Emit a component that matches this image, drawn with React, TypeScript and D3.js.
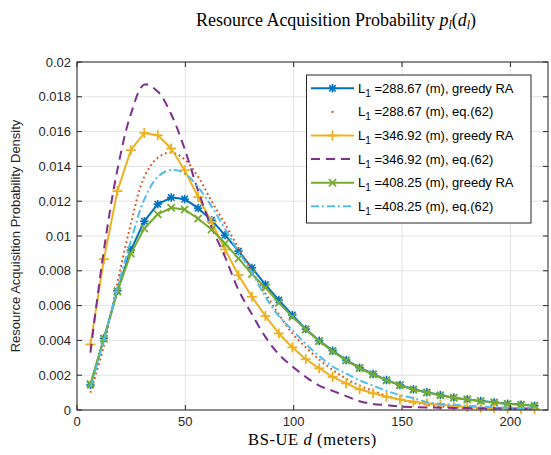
import React from "react";
import * as d3 from "d3";

const distances = [6.21, 12.42, 18.63, 24.84, 31.05, 37.26, 43.47, 49.68, 55.89, 62.1, 68.31, 74.52, 80.73, 86.94, 93.15, 99.36, 105.57, 111.78, 117.99, 124.2, 130.41, 136.62, 142.83, 149.04, 155.25, 161.46, 167.67, 173.88, 180.09, 186.3, 192.51, 198.72, 204.93, 211.14];

const greedy288 = [0.00144, 0.00412, 0.00685, 0.00919, 0.01085, 0.01183, 0.01221, 0.01212, 0.0116, 0.01091, 0.01005, 0.00913, 0.00817, 0.00721, 0.00632, 0.00546, 0.00465, 0.00398, 0.00341, 0.00287, 0.00243, 0.00207, 0.00172, 0.00144, 0.00119, 0.00102, 0.00086, 0.00071, 0.00061, 0.00052, 0.00044, 0.00036, 0.00031, 0.00025];
const eq288 = [0.001, 0.0037, 0.0073, 0.0107, 0.0134, 0.0145, 0.0148, 0.0144, 0.0134, 0.012, 0.0107, 0.0093, 0.008, 0.0067, 0.0055, 0.0044, 0.0036, 0.0029, 0.0023, 0.0018, 0.0014, 0.0011, 0.0008, 0.0006, 0.00042, 0.0003, 0.0002, 0.00015, 0.0001, 0.00008, 0.00006, 0.00005, 0.00004, 0.00003];
const greedy346 = [0.00377, 0.00867, 0.01258, 0.01493, 0.01592, 0.01579, 0.01503, 0.01378, 0.01224, 0.01081, 0.00923, 0.00775, 0.00651, 0.0054, 0.0044, 0.0036, 0.00292, 0.0024, 0.0019, 0.00153, 0.00119, 0.00096, 0.00076, 0.00061, 0.00048, 0.00038, 0.0003, 0.00023, 0.00017, 0.00013, 0.0001, 0.00008, 0.00006, 0.00005];
const eq346 = [0.0033, 0.0092, 0.0138, 0.017, 0.0187, 0.0183, 0.017, 0.015, 0.0126, 0.0105, 0.0088, 0.0069, 0.0055, 0.0042, 0.0032, 0.0025, 0.0019, 0.0014, 0.0011, 0.0008, 0.0005, 0.00035, 0.00028, 0.0002, 0.00017, 0.00015, 0.00013, 0.00012, 0.00011, 0.0001, 0.0001, 0.00009, 0.00008, 0.00008];
const greedy408 = [0.0015, 0.0041, 0.0068, 0.009, 0.01043, 0.01125, 0.01162, 0.01152, 0.011, 0.01037, 0.00957, 0.00871, 0.00781, 0.00703, 0.00616, 0.00536, 0.00463, 0.00395, 0.00337, 0.00284, 0.0024, 0.00204, 0.0017, 0.00142, 0.00117, 0.001, 0.00084, 0.0007, 0.0006, 0.00051, 0.00043, 0.00035, 0.0003, 0.00024];
const eq408 = [0.0013, 0.004, 0.007, 0.0097, 0.0121, 0.0134, 0.0138, 0.0136, 0.0128, 0.0117, 0.0104, 0.0091, 0.0079, 0.0065, 0.0054, 0.0046, 0.0038, 0.0031, 0.0025, 0.0021, 0.0017, 0.0014, 0.0011, 0.00085, 0.00068, 0.00045, 0.00036, 0.0003, 0.00024, 0.0002, 0.00016, 0.00013, 0.00011, 0.0001];

const xTicks = [0, 50, 100, 150, 200];
const yTicks = [0, 0.002, 0.004, 0.006, 0.008, 0.01, 0.012, 0.014, 0.016, 0.018, 0.02];
const yTickLabels = ["0", "0.002", "0.004", "0.006", "0.008", "0.01", "0.012", "0.014", "0.016", "0.018", "0.02"];
const legendValues = ["288.67", "288.67", "346.92", "346.92", "408.25", "408.25"];
const legendKinds = ["greedy RA", "eq.(62)", "greedy RA", "eq.(62)", "greedy RA", "eq.(62)"];

type Series = {
  values: number[];
  color: string;
  dash?: string;
  width: number;
  marker?: "star" | "plus" | "x";
  smooth: boolean;
};

const series: Series[] = [
  { values: greedy288, color: "#0072BD", width: 2, marker: "star", smooth: false },
  { values: eq288, color: "#D95319", width: 2, dash: "1.8,3", smooth: true },
  { values: greedy346, color: "#EDB120", width: 2, marker: "plus", smooth: false },
  { values: eq346, color: "#7E2F8E", width: 2, dash: "9,6", smooth: true },
  { values: greedy408, color: "#77AC30", width: 2, marker: "x", smooth: false },
  { values: eq408, color: "#4DBEEE", width: 2, dash: "8,3,2,3", smooth: true },
];

const W = 551, H = 455;
const L = 77, R = 548, T = 62, B = 410;
const axisColor = "#262626";
const sans = "'Liberation Sans', Arial, Helvetica, sans-serif";
const serif = "'Liberation Serif', 'Times New Roman', serif";

function Marker({ kind, cx, cy, color }: { kind: string; cx: number; cy: number; color: string }) {
  if (kind === "star") {
    const a = 4.2, b = 3.2;
    return (
      <g stroke={color} strokeWidth={1.6} fill="none">
        <line x1={cx - a} y1={cy} x2={cx + a} y2={cy} />
        <line x1={cx} y1={cy - a} x2={cx} y2={cy + a} />
        <line x1={cx - b} y1={cy - b} x2={cx + b} y2={cy + b} />
        <line x1={cx - b} y1={cy + b} x2={cx + b} y2={cy - b} />
      </g>
    );
  }
  if (kind === "plus") {
    const a = 5;
    return (
      <g stroke={color} strokeWidth={1.8} fill="none">
        <line x1={cx - a} y1={cy} x2={cx + a} y2={cy} />
        <line x1={cx} y1={cy - a} x2={cx} y2={cy + a} />
      </g>
    );
  }
  const b = 3.6;
  return (
    <g stroke={color} strokeWidth={1.8} fill="none">
      <line x1={cx - b} y1={cy - b} x2={cx + b} y2={cy + b} />
      <line x1={cx - b} y1={cy + b} x2={cx + b} y2={cy - b} />
    </g>
  );
}

export default function App() {
  const x = d3.scaleLinear().domain([0, 217.35]).range([L, R]);
  const y = d3.scaleLinear().domain([0, 0.02]).range([B, T]);

  const straight = d3.line<[number, number]>().x((p) => x(p[0])).y((p) => y(p[1]));
  const smooth = d3
    .line<[number, number]>()
    .x((p) => x(p[0]))
    .y((p) => y(p[1]))
    .curve(d3.curveCatmullRom.alpha(0.5));

  const legendY0 = 88.3, legendDy = 23.6;

  return (
    <svg width={W} height={H} style={{ position: "absolute", left: 0, top: 0, background: "#fff" }}>
      <rect x={0} y={0} width={W} height={H} fill="#fff" />
      {/* grid */}
      <g stroke="#e3e3e3" strokeWidth={1}>
        {xTicks.map((t) => (
          <line key={"gx" + t} x1={x(t)} x2={x(t)} y1={T} y2={B} />
        ))}
        {yTicks.map((t) => (
          <line key={"gy" + t} x1={L} x2={R} y1={y(t)} y2={y(t)} />
        ))}
      </g>

      {/* series */}
      <g>
        {series.map((s, i) => {
          const pts: [number, number][] = distances.map((d, j) => [d, s.values[j]]);
          const path = (s.smooth ? smooth : straight)(pts) || "";
          return (
            <g key={"s" + i}>
              <path
                d={path}
                fill="none"
                stroke={s.color}
                strokeWidth={s.width}
                strokeDasharray={s.dash}
                strokeLinejoin="round"
              />
              {s.marker &&
                pts.map((p, j) => (
                  <Marker key={j} kind={s.marker!} cx={x(p[0])} cy={y(p[1])} color={s.color} />
                ))}
            </g>
          );
        })}
      </g>

      {/* axes box */}
      <rect x={L} y={T} width={R - L} height={B - T} fill="none" stroke={axisColor} strokeWidth={1} />
      <g stroke={axisColor} strokeWidth={1}>
        {xTicks.map((t) => (
          <g key={"tx" + t}>
            <line x1={x(t)} x2={x(t)} y1={B} y2={B - 5} />
            <line x1={x(t)} x2={x(t)} y1={T} y2={T + 5} />
          </g>
        ))}
        {yTicks.map((t) => (
          <g key={"ty" + t}>
            <line x1={L} x2={L + 5} y1={y(t)} y2={y(t)} />
            <line x1={R} x2={R - 5} y1={y(t)} y2={y(t)} />
          </g>
        ))}
      </g>
      <g fill={axisColor} fontFamily={sans} fontSize={13}>
        {xTicks.map((t) => (
          <text key={"lx" + t} x={x(t)} y={B + 16} textAnchor="middle">
            {t}
          </text>
        ))}
        {yTicks.map((t, i) => (
          <text key={"ly" + t} x={L - 6} y={y(t) + 4.5} textAnchor="end">
            {yTickLabels[i]}
          </text>
        ))}
      </g>

      {/* y label */}
      <text
        transform={`translate(20,${(T + B) / 2}) rotate(-90)`}
        textAnchor="middle"
        fontFamily={sans}
        fontSize={13}
        fill={axisColor}
      >
        Resource Acquisition Probability Density
      </text>

      {/* x label */}
      <text
        x={(L + R) / 2}
        y={445}
        textAnchor="middle"
        fontFamily={serif}
        fontSize={16.5}
        letterSpacing={0.6}
        fill="#000"
      >
        BS-UE <tspan fontStyle="italic">d</tspan> (meters)
      </text>

      {/* title */}
      <text x={336} y={26} textAnchor="middle" fontFamily={serif} fontSize={18} fill="#000">
        Resource Acquisition Probability <tspan fontStyle="italic">p</tspan>
        <tspan fontStyle="italic" fontSize={12} dy={3}>l</tspan>
        <tspan dy={-3}>(</tspan>
        <tspan fontStyle="italic">d</tspan>
        <tspan fontStyle="italic" fontSize={12} dy={3}>l</tspan>
        <tspan dy={-3}>)</tspan>
      </text>

      {/* legend */}
      <g>
        <rect x={306.5} y={75} width={224.5} height={148} fill="#fff" stroke={axisColor} strokeWidth={1} />
        {series.map((s, i) => {
          const cy = legendY0 + i * legendDy;
          return (
            <g key={"lg" + i}>
              {i !== 1 && (
                <line
                  x1={311}
                  x2={354}
                  y1={cy}
                  y2={cy}
                  stroke={s.color}
                  strokeWidth={s.width}
                  strokeDasharray={s.dash}
                />
              )}
              {i === 1 && <rect x={331.5} y={cy - 1} width={2} height={2} fill={s.color} />}
              {s.marker && <Marker kind={s.marker} cx={332.5} cy={cy} color={s.color} />}
              <text x={358} y={cy + 4.5} fontFamily={sans} fontSize={13} fill="#000">
                L<tspan fontSize={10} dy={4}>1</tspan>
                <tspan dy={-4}> ={legendValues[i]} (m), {legendKinds[i]}</tspan>
              </text>
            </g>
          );
        })}
      </g>
    </svg>
  );
}
